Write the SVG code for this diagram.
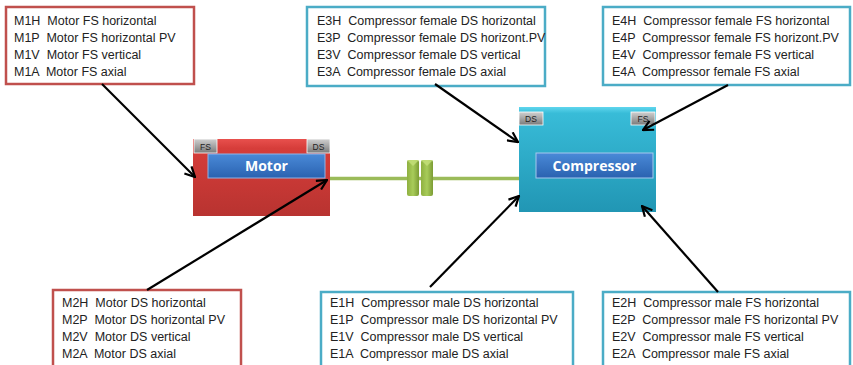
<svg xmlns="http://www.w3.org/2000/svg" width="853" height="365" viewBox="0 0 853 365">
<defs>
<linearGradient id="gRed" x1="0" y1="0" x2="0" y2="1">
<stop offset="0" stop-color="#e8504d"/><stop offset="0.12" stop-color="#d63d3a"/><stop offset="1" stop-color="#b83330"/>
</linearGradient>
<linearGradient id="gCyan" x1="0" y1="0" x2="0" y2="1">
<stop offset="0" stop-color="#5fd6ee"/><stop offset="0.06" stop-color="#38bcd8"/><stop offset="1" stop-color="#2196b4"/>
</linearGradient>
<linearGradient id="gBlue" x1="0" y1="0" x2="0" y2="1">
<stop offset="0" stop-color="#4a8ad8"/><stop offset="1" stop-color="#2a62b0"/>
</linearGradient>
<linearGradient id="gTag" x1="0" y1="0" x2="0" y2="1">
<stop offset="0" stop-color="#d0d0d0"/><stop offset="1" stop-color="#7a7a7a"/>
</linearGradient>
<linearGradient id="gGreen" x1="0" y1="0" x2="1" y2="0">
<stop offset="0" stop-color="#8fb040"/><stop offset="0.5" stop-color="#a8cc5a"/><stop offset="1" stop-color="#7c9c34"/>
</linearGradient>
<marker id="arr" viewBox="0 0 12 12" refX="11" refY="6" markerWidth="12" markerHeight="12" markerUnits="userSpaceOnUse" orient="auto">
<polyline points="1,1 11,6 1,11" fill="none" stroke="#000" stroke-width="2.2"/>
</marker>
</defs>
<style>
.lab{font-family:"Liberation Sans",Arial,sans-serif;font-size:12.5px;fill:#222;white-space:pre}
.rbox{fill:#fff;stroke:#c0504d;stroke-width:2.5}
.bbox{fill:#fff;stroke:#4bacc6;stroke-width:2.5}
.tag{fill:url(#gTag);stroke:#fff;stroke-width:0.8}
.tagt{font-family:"Liberation Sans",Arial,sans-serif;font-size:8.5px;fill:#222;text-anchor:middle}
.title{font-family:"Open Sans","Liberation Sans",sans-serif;font-size:14px;font-weight:bold;fill:#fff;text-anchor:middle}
.conn{stroke:#000;stroke-width:2.2;fill:none}
</style>

<g id="label-M1">
<rect class="rbox" x="6" y="7" width="188" height="77"/>
<text class="lab" x="14" y="25" xml:space="preserve">M1H  Motor FS horizontal</text>
<text class="lab" x="14" y="42" xml:space="preserve">M1P  Motor FS horizontal PV</text>
<text class="lab" x="14" y="59" xml:space="preserve">M1V  Motor FS vertical</text>
<text class="lab" x="14" y="76" xml:space="preserve">M1A  Motor FS axial</text>
</g>
<g id="label-E3">
<rect class="bbox" x="307" y="7" width="238" height="79"/>
<text class="lab" x="317" y="25" xml:space="preserve">E3H  Compressor female DS horizontal</text>
<text class="lab" x="317" y="42" xml:space="preserve">E3P  Compressor female DS horizont.PV</text>
<text class="lab" x="317" y="59" xml:space="preserve">E3V  Compressor female DS vertical</text>
<text class="lab" x="317" y="76" xml:space="preserve">E3A  Compressor female DS axial</text>
</g>
<g id="label-E4">
<rect class="bbox" x="603" y="7" width="247" height="78"/>
<text class="lab" x="612" y="25" xml:space="preserve">E4H  Compressor female FS horizontal</text>
<text class="lab" x="612" y="42" xml:space="preserve">E4P  Compressor female FS horizont.PV</text>
<text class="lab" x="612" y="59" xml:space="preserve">E4V  Compressor female FS vertical</text>
<text class="lab" x="612" y="76" xml:space="preserve">E4A  Compressor female FS axial</text>
</g>
<g id="label-M2">
<rect class="rbox" x="53" y="290" width="188" height="90"/>
<text class="lab" x="62" y="307" xml:space="preserve">M2H  Motor DS horizontal</text>
<text class="lab" x="62" y="324" xml:space="preserve">M2P  Motor DS horizontal PV</text>
<text class="lab" x="62" y="341" xml:space="preserve">M2V  Motor DS vertical</text>
<text class="lab" x="62" y="358" xml:space="preserve">M2A  Motor DS axial</text>
</g>
<g id="label-E1">
<rect class="bbox" x="321" y="292" width="252" height="90"/>
<text class="lab" x="330" y="307" xml:space="preserve">E1H  Compressor male DS horizontal</text>
<text class="lab" x="330" y="324" xml:space="preserve">E1P  Compressor male DS horizontal PV</text>
<text class="lab" x="330" y="341" xml:space="preserve">E1V  Compressor male DS vertical</text>
<text class="lab" x="330" y="358" xml:space="preserve">E1A  Compressor male DS axial</text>
</g>
<g id="label-E2">
<rect class="bbox" x="603" y="292" width="247" height="90"/>
<text class="lab" x="612" y="307" xml:space="preserve">E2H  Compressor male FS horizontal</text>
<text class="lab" x="612" y="324" xml:space="preserve">E2P  Compressor male FS horizontal PV</text>
<text class="lab" x="612" y="341" xml:space="preserve">E2V  Compressor male FS vertical</text>
<text class="lab" x="612" y="358" xml:space="preserve">E2A  Compressor male FS axial</text>
</g>

<g id="shaft">
<line x1="329" y1="178.5" x2="519" y2="178.5" stroke="#9bbb59" stroke-width="3.5"/>
<rect x="407" y="160" width="12" height="36" rx="2" fill="url(#gGreen)"/>
<rect x="421" y="160" width="12" height="36" rx="2" fill="url(#gGreen)"/>
<polygon points="407,160 419,160 413,166" fill="#c6e07a" opacity="0.8"/>
<polygon points="421,160 433,160 427,166" fill="#c6e07a" opacity="0.8"/>
</g>

<g id="motor">
<rect x="193" y="139" width="137" height="77" fill="url(#gRed)"/>
<rect class="tag" x="194" y="139" width="23" height="14"/>
<text class="tagt" x="205.5" y="149.5">FS</text>
<rect class="tag" x="307" y="139" width="23" height="14"/>
<text class="tagt" x="318.5" y="149.5">DS</text>
<rect x="208" y="154" width="117" height="24" fill="url(#gBlue)" stroke="#8fb4e6" stroke-width="1"/>
<text class="title" x="266.5" y="171">Motor</text>
</g>

<g id="compressor">
<rect x="519" y="107" width="137" height="105" fill="url(#gCyan)"/>
<rect class="tag" x="519" y="112" width="24" height="13"/>
<text class="tagt" x="531" y="121.5">DS</text>
<rect class="tag" x="631" y="112" width="24" height="13"/>
<text class="tagt" x="643" y="121.5">FS</text>
<rect x="536" y="153" width="117" height="25" fill="url(#gBlue)" stroke="#a6c8ee" stroke-width="1"/>
<text class="title" x="594.5" y="171">Compressor</text>
</g>

<g id="connectors">
<line class="conn" x1="102" y1="84" x2="195" y2="177" marker-end="url(#arr)"/>
<line class="conn" x1="147" y1="290" x2="327" y2="180" marker-end="url(#arr)"/>
<line class="conn" x1="435" y1="84" x2="518" y2="142" marker-end="url(#arr)"/>
<line class="conn" x1="728" y1="85" x2="643" y2="130" marker-end="url(#arr)"/>
<line class="conn" x1="430" y1="287" x2="519" y2="196" marker-end="url(#arr)"/>
<line class="conn" x1="718" y1="292" x2="642" y2="206" marker-end="url(#arr)"/>
</g>
</svg>
